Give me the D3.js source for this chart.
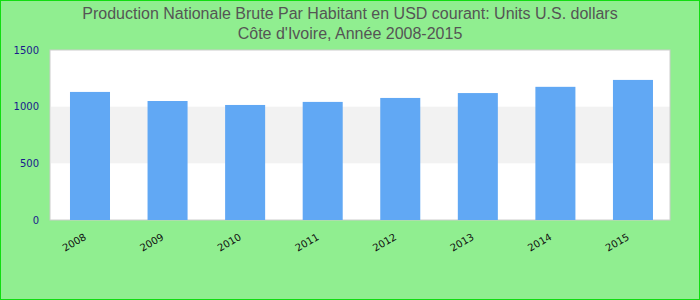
<!DOCTYPE html>
<html>
<head>
<meta charset="utf-8">
<script src="https://cdn.jsdelivr.net/npm/d3@7"></script>
<style>
  body { margin: 0; }
  svg { display: block; }
</style>
</head>
<body>
<svg width="700" height="300"></svg>
<script>
const years = ['2008', '2009', '2010', '2011', '2012', '2013', '2014', '2015'];
const values = [1130, 1050, 1015, 1042, 1077, 1120, 1175, 1236];
const yTicks = [0, 500, 1000, 1500];
const titleLines = [
  'Production Nationale Brute Par Habitant en USD courant: Units U.S. dollars',
  "Côte d'Ivoire, Année 2008-2015"
];

const W = 700, H = 300;
const plot = {left: 50, right: 670, top: 50, bottom: 220};

const svg = d3.select('svg');

// background + outer border
svg.append('rect')
  .attr('x', 0.5).attr('y', 0.5)
  .attr('width', W - 1).attr('height', H - 1)
  .attr('fill', '#90ee90')
  .attr('stroke', '#11dd11')
  .attr('stroke-width', 1);

svg.selectAll('.title')
  .data(titleLines)
  .enter()
  .append('text')
  .classed('title', true)
  .attr('x', W / 2)
  .attr('y', (d, i) => 19 + i * 20)
  .attr('text-anchor', 'middle')
  .attr('font-family', 'Liberation Sans, Arial, sans-serif')
  .attr('font-size', 16)
  .attr('fill', '#555')
  .text(d => d);

const xScale = d3.scaleBand()
  .domain(years)
  .range([plot.left, plot.right])
  .paddingInner(0.484)
  .paddingOuter(0.2385)
  .align(0.54);

const yScale = d3.scaleLinear()
  .domain([0, 1500])
  .range([plot.bottom, plot.top]);

// plot area
svg.append('rect')
  .attr('x', plot.left).attr('y', plot.top)
  .attr('width', plot.right - plot.left)
  .attr('height', plot.bottom - plot.top)
  .attr('fill', '#fff');

// alternating band
svg.append('rect')
  .attr('x', plot.left + 1)
  .attr('y', yScale(1000))
  .attr('width', plot.right - plot.left - 1)
  .attr('height', yScale(500) - yScale(1000))
  .attr('fill', '#f2f2f2');

svg.append('rect')
  .attr('x', plot.left).attr('y', plot.top)
  .attr('width', plot.right - plot.left)
  .attr('height', plot.bottom - plot.top)
  .attr('fill', 'none')
  .attr('stroke', '#ccc')
  .attr('stroke-width', 1);

svg.selectAll('.bar')
  .data(values)
  .enter()
  .append('rect')
  .classed('bar', true)
  .attr('x', (d, i) => xScale(years[i]))
  .attr('width', xScale.bandwidth())
  .attr('y', d => yScale(d))
  .attr('height', d => yScale(0) - yScale(d))
  .attr('fill', '#61a8f4');

// y axis labels
svg.append('g')
  .attr('transform', `translate(${plot.left - 11},0)`)
  .call(d3.axisLeft(yScale).tickValues(yTicks).tickFormat(d3.format('d')).tickSize(0).tickPadding(0))
  .call(g => g.select('.domain').remove())
  .call(g => g.selectAll('text')
    .attr('font-family', 'DejaVu Sans, sans-serif')
    .attr('font-size', 10)
    .attr('fill', '#1a1a8c'));

// x labels
svg.selectAll('.xlab')
  .data(years)
  .enter()
  .append('text')
  .classed('xlab', true)
  .attr('transform', d => `translate(${xScale(d) + xScale.bandwidth() / 2 - 3},239) rotate(-30)`)
  .attr('text-anchor', 'end')
  .attr('font-family', 'DejaVu Sans, sans-serif')
  .attr('font-size', 10)
  .attr('fill', '#111')
  .text(d => d);
</script>
</body>
</html>
